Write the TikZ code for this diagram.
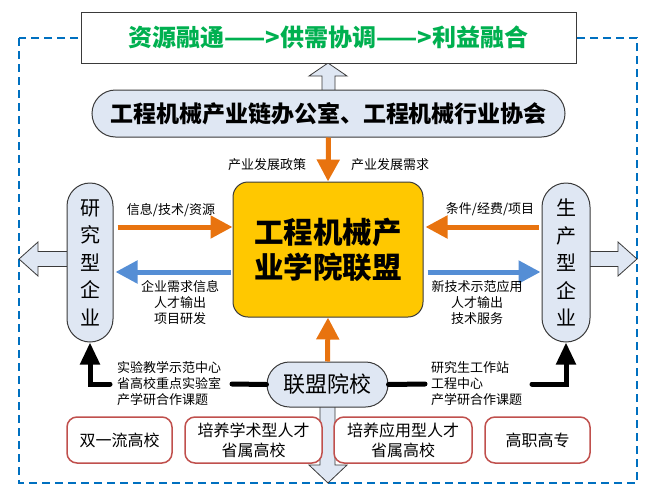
\documentclass[tikz,border=0pt]{standalone}
\usepackage{fontspec}
\setmainfont{Noto Sans CJK SC}
\usetikzlibrary{arrows.meta}
\definecolor{dashblue}{HTML}{0070C0}
\definecolor{titlegreen}{HTML}{00B050}
\definecolor{pillfill}{HTML}{DFE7F3}
\definecolor{edgegray}{HTML}{3A3A3A}
\definecolor{coreyellow}{HTML}{FFC800}
\definecolor{orangec}{HTML}{E8730F}
\definecolor{bluec}{HTML}{558ED5}
\definecolor{boxred}{HTML}{C0504D}
\tikzset{
  hollow/.style={draw=edgegray, fill=pillfill, line width=0.8pt, line join=miter},
  pill/.style={draw=edgegray, fill=pillfill, line width=1pt, inner sep=0pt, align=center},
  redbox/.style={draw=boxred, fill=white, line width=1.5pt, rounded corners=10pt, minimum height=46pt, inner sep=0pt, align=center, font=\fontsize{16}{20}\selectfont},
  lbl/.style={inner sep=0pt, align=center, font=\fontsize{13}{16}\selectfont},
  oarr/.style={draw=orangec, line width=5pt, -{Triangle[length=22pt,width=22pt]}},
  barr/.style={draw=bluec, line width=5pt, -{Triangle[length=22pt,width=22pt]}},
  blk/.style={draw=black, line width=5pt, line cap=round},
}
\begin{document}
\begin{tikzpicture}[x=1pt,y=-1pt]
\useasboundingbox (0,0) rectangle (651,501);
% dashed frame
\draw[dashblue, line width=2pt, dash pattern=on 8pt off 5pt] (19,38) rectangle (637,483);
% hollow arrows
\draw[hollow] (322,92) -- (322,76) -- (309,76) -- (328,63) -- (347,76) -- (335,76) -- (335,92) -- cycle;
\draw[hollow] (70,251.5) -- (38,251.5) -- (38,242) -- (19,259) -- (38,276) -- (38,266.5) -- (70,266.5) -- cycle;
\draw[hollow] (587,251.5) -- (618,251.5) -- (618,242) -- (637,259) -- (618,276) -- (618,266.5) -- (587,266.5) -- cycle;
\draw[hollow] (320,404) -- (320,465) -- (309,465) -- (328,483) -- (347,465) -- (335,465) -- (335,404) -- cycle;
% top box
\node[draw=edgegray, fill=white, line width=1pt, minimum width=495pt, minimum height=51pt, inner sep=0pt,
      text=titlegreen, font=\bfseries\fontsize{24}{28}\selectfont] (top) at (328.5,37.5) {资源融通——>供需协调——>利益融合};
% org box
\node[pill, rounded corners=23.5pt, minimum width=473pt, minimum height=47pt,
      font=\bfseries\fontsize{23}{28}\selectfont] (org) at (328.5,113.5) {工程机械产业链办公室、工程机械行业协会};
% core
\node[draw=edgegray, fill=coreyellow, line width=1pt, rounded corners=15pt, minimum width=190pt, minimum height=135pt,
      inner sep=0pt, align=center, font=\bfseries\fontsize{29.5}{35}\selectfont] (core) at (328,249.5) {工程机械产\\业学院联盟};
% pills
\node[pill, rounded corners=23pt, minimum width=46pt, minimum height=159pt, font=\fontsize{20}{27.5}\selectfont] (lp) at (90,262.5) {研\\究\\型\\企\\业};
\node[pill, rounded corners=24pt, minimum width=48pt, minimum height=159pt, font=\fontsize{20}{27.5}\selectfont] (rp) at (566,262.5) {生\\产\\型\\企\\业};
\node[pill, rounded corners=22.5pt, minimum width=121pt, minimum height=45pt, font=\fontsize{22}{26}\selectfont] (lm) at (327.5,384.5) {联盟院校};
% bottom boxes
\node[redbox, minimum width=105pt] (b1) at (119.5,440) {双一流高校};
\node[redbox, minimum width=137pt] (b2) at (253.5,440) {培养学术型人才\\省属高校};
\node[redbox, minimum width=138pt] (b3) at (403,440) {培养应用型人才\\省属高校};
\node[redbox, minimum width=105pt] (b4) at (537.5,440) {高职高专};
% orange / blue arrows
\draw[oarr] (org.south) -- (core.north);
\draw[oarr] (lm.north) -- (core.south);
\coordinate (ry1) at (0,227);
\coordinate (ry2) at (0,272);
\draw[oarr, shorten <=4pt] (lp.east |- ry1) -- (core.west |- ry1);
\draw[oarr, shorten <=3pt, shorten >=2pt] (rp.west |- ry1) -- (core.east |- ry1);
\draw[barr, shorten <=2pt, shorten >=2pt] (core.west |- ry2) -- (lp.east |- ry2);
\draw[barr, shorten <=4pt, shorten >=1pt] (core.east |- ry2) -- (rp.west |- ry2);
% labels
\node[lbl] (l1) at (267,165) {产业发展政策};
\node[lbl] (l2) at (390,165) {产业发展需求};
\node[lbl] (l3) at (171,210) {信息/技术/资源};
\node[lbl] (l4) at (490,209) {条件/经费/项目};
\node[lbl] (l5) at (180,303) {企业需求信息\\人才输出\\项目研发};
\node[lbl] (l6) at (477,303) {新技术示范应用\\人才输出\\技术服务};
% black connectors
\coordinate (la) at (232,384);
\coordinate (lb) at (110,384);
\coordinate (ra) at (425,384);
\coordinate (rb) at (532,384);
\draw[blk] (lm.west) -- (la);
\draw[blk] (lm.east) -- (ra);
\draw[blk, -{Triangle[length=22pt,width=19pt]}] (lb) -| (lp.south);
\draw[blk, -{Triangle[length=22pt,width=19pt]}] (rb) -| (rp.south);
\node[lbl, align=left, anchor=west] (l7) at (117,384) {实验教学示范中心\\省高校重点实验室\\产学研合作课题};
\node[lbl, align=left, anchor=west] (l8) at (431,384) {研究生工作站\\工程中心\\产学研合作课题};
\end{tikzpicture}
\end{document}
